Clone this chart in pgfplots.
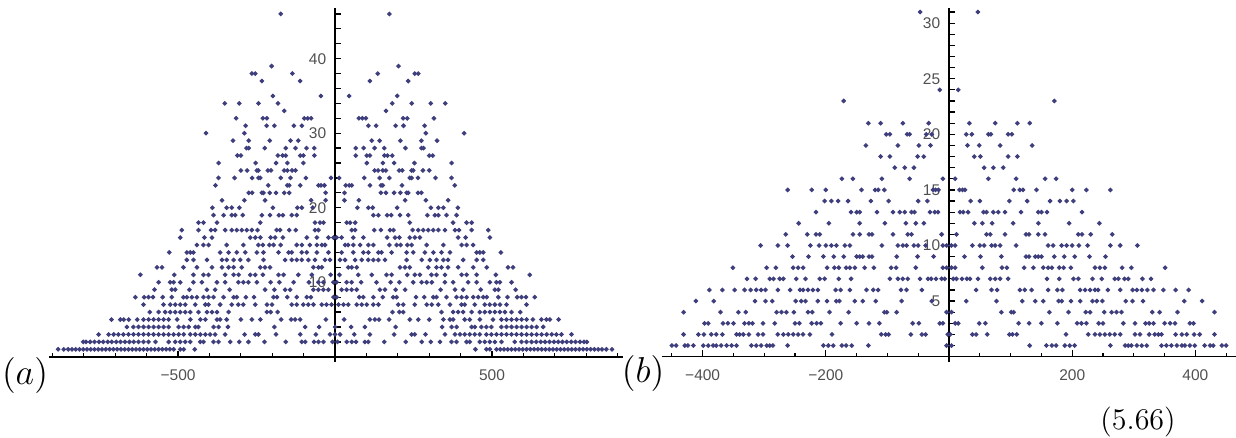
\documentclass[border=0pt]{standalone}
\usepackage{pgfplots}
\pgfplotsset{compat=1.18}
\usepackage{fontspec}
\newfontfamily\tickfont{Liberation Sans}
\definecolor{dots}{RGB}{62,62,125}
\definecolor{ticktext}{RGB}{80,80,80}
\pgfplotsset{
  panel/.style={
    scale only axis, width=229.6pt, height=141.6pt,
    anchor=south west, clip=false,
    axis x line=center, axis y line=center,
    axis line style={-, black, line width=0.6pt},
    every tick/.style={black, line width=0.5pt},
    tick align=inside,
    major tick length=2.5pt, minor tick length=1.4pt,
    xlabel={}, ylabel={},
    tick label style={font=\tickfont\fontsize{6.2}{7}\selectfont, text=ticktext},
    x tick label style={yshift=-1.5pt},
  },
  pts/.style={only marks, color=dots, mark=*, mark size=0.72pt, mark options={draw=none, fill=dots}},
}
\begin{document}
\begin{tikzpicture}
\path[use as bounding box] (0,0) rectangle (494.4pt,174.8pt);
% panel (a)
\begin{axis}[panel, at={(19.6pt,30pt)},
  xmin=-911, xmax=917, ymin=-0.7, ymax=46.8,
  xtick={-500,500}, xticklabels={−500,500},
  minor xtick={-900,-800,-700,-600,-400,-300,-200,-100,100,200,300,400,600,700,800,900},
  ytick={2,4,...,46},
  yticklabels={,,,,10,,,,,20,,,,,30,,,,,40,,,},
]
% right half
\addplot[pts] coordinates {
(173,46)
(202,39)
(136,38)(254,38)(265,38)
(111,37)(233,37)
(45,35)(198,35)
(182,34)(244,34)(305,34)(351,34)
(162,33)
(76,32)(87,32)(98,32)(217,32)(230,32)(315,32)
(106,31)(131,31)(193,31)(218,31)(285,31)
(289,30)(411,30)
(117,29)(142,29)(208,29)(275,29)(325,29)
(66,28)(91,28)(126,28)(157,28)(224,28)(275,28)(282,28)
(66,27)(101,27)(111,27)(157,27)(167,27)(182,27)(300,27)(311,27)
(101,26)(152,26)(188,26)(253,26)(371,26)
(126,25)(137,25)(152,25)(162,25)(204,25)(214,25)(244,25)(249,25)(280,25)(300,25)
(13,24)(93,24)(142,24)(173,24)(238,24)(244,24)(264,24)(320,24)(371,24)
(34,23)(45,23)(53,23)(111,23)(146,23)(152,23)(213,23)(381,23)
(30,22)(146,22)(162,22)(188,22)(208,22)(228,22)(233,22)(264,22)(275,22)
(30,21)(76,21)(223,21)(289,21)(360,21)
(71,20)(106,20)(120,20)(198,20)(305,20)(329,20)(345,20)(391,20)
(122,19)(138,19)(166,19)(179,19)(207,19)(233,19)(294,19)(318,19)(329,19)(355,19)(387,19)
(37,18)(48,18)(64,18)(238,18)(376,18)(419,18)(435,18)
(53,17)(64,17)(125,17)(146,17)(175,17)(186,17)(247,17)(265,17)(281,17)(297,17)(313,17)(329,17)(350,17)(382,17)(395,17)(435,17)(488,17)
(5,16)(21,16)(58,16)(90,16)(166,16)(191,16)(205,16)(238,16)(254,16)(270,16)(392,16)(416,16)(493,16)
(32,15)(42,15)(58,15)(80,15)(106,15)(122,15)(173,15)(196,15)(209,15)(230,15)(244,15)(292,15)(345,15)(403,15)(419,15)(440,15)
(21,14)(58,14)(90,14)(106,14)(138,14)(148,14)(180,14)(228,14)(249,14)(286,14)(313,14)(339,14)(366,14)(451,14)(461,14)(472,14)(528,14)
(16,13)(32,13)(64,13)(85,13)(106,13)(122,13)(138,13)(159,13)(228,13)(276,13)(302,13)(323,13)(345,13)(360,13)(408,13)(451,13)(472,13)
(42,12)(53,12)(69,12)(207,12)(223,12)(238,12)(297,12)(323,12)(339,12)(360,12)(392,12)(440,12)(483,12)(551,12)(567,12)
(14,11)(74,11)(117,11)(164,11)(180,11)(230,11)(254,11)(270,11)(307,11)(323,11)(350,11)(403,11)(419,11)(451,11)(512,11)(620,11)
(5,10)(37,10)(53,10)(83,10)(132,10)(177,10)(205,10)(249,10)(276,10)(292,10)(308,10)(350,10)(376,10)(424,10)(451,10)(493,10)(514,10)(525,10)(562,10)
(21,9)(37,9)(53,9)(69,9)(143,9)(159,9)(193,9)(223,9)(336,9)(382,9)(408,9)(464,9)(509,9)(520,9)(575,9)
(5,8)(77,8)(90,8)(122,8)(152,8)(185,8)(196,8)(258,8)(284,8)(313,8)(323,8)(355,8)(387,8)(403,8)(419,8)(440,8)(456,8)(472,8)(483,8)(520,8)(549,8)(580,8)(594,8)(608,8)(636,8)
(11,7)(27,7)(42,7)(69,7)(85,7)(101,7)(122,7)(138,7)(201,7)(217,7)(254,7)(292,7)(308,7)(329,7)(366,7)(403,7)(413,7)(445,7)(477,7)(493,7)(509,7)(525,7)(546,7)(610,7)
(183,6)(205,6)(217,6)(339,6)(376,6)(392,6)(408,6)(435,6)(461,6)(477,6)(493,6)(509,6)(525,6)(541,6)(562,6)(590,6)
(29,5)(111,5)(127,5)(140,5)(172,5)(238,5)(265,5)(300,5)(345,5)(366,5)(376,5)(413,5)(429,5)(461,5)(503,5)(530,5)(546,5)(562,5)(578,5)(594,5)(610,5)(630,5)(657,5)(673,5)(684,5)(712,5)
(0,4)(51,4)(95,4)(193,4)(341,4)(371,4)(387,4)(435,4)(445,4)(466,4)(482,4)(498,4)(530,4)(546,4)(562,4)(578,4)(594,4)(610,4)(626,4)(642,4)(663,4)
(0,3)(16,3)(61,3)(111,3)(188,3)(244,3)(254,3)(288,3)(350,3)(382,3)(398,3)(413,3)(429,3)(445,3)(461,3)(482,3)(498,3)(514,3)(530,3)(546,3)(562,3)(578,3)(594,3)(610,3)(626,3)(642,3)(658,3)(674,3)(690,3)(705,3)(721,3)(753,3)
(8,2)(37,2)(53,2)(67,2)(95,2)(106,2)(157,2)(225,2)(276,2)(305,2)(334,2)(371,2)(387,2)(419,2)(429,2)(461,2)(477,2)(493,2)(509,2)(530,2)(572,2)(594,2)(610,2)(626,2)(641,2)(655,2)(669,2)(683,2)(697,2)(711,2)(724,2)(738,2)(752,2)(766,2)(780,2)(793,2)(802,2)
(447,1)(482,1)(493,1)(514,1)(526,1)(538,1)(550,1)(562,1)(574,1)(586,1)(598,1)(610,1)(622,1)(634,1)(646,1)(658,1)(670,1)(682,1)(694,1)(706,1)(718,1)(730,1)(742,1)(754,1)(766,1)(778,1)(790,1)(802,1)(814,1)(826,1)(838,1)(850,1)(864,1)(882,1)
};
% left half
\addplot[pts] coordinates {
(-173,46)
(-202,39)
(-136,38)(-254,38)(-265,38)
(-111,37)(-233,37)
(-45,35)(-198,35)
(-182,34)(-244,34)(-305,34)(-351,34)
(-162,33)
(-76,32)(-87,32)(-98,32)(-217,32)(-230,32)(-315,32)
(-106,31)(-131,31)(-193,31)(-218,31)(-285,31)
(-289,30)(-411,30)
(-117,29)(-142,29)(-208,29)(-275,29)(-325,29)
(-66,28)(-91,28)(-126,28)(-157,28)(-224,28)(-275,28)(-282,28)
(-66,27)(-101,27)(-111,27)(-157,27)(-167,27)(-182,27)(-300,27)(-311,27)
(-101,26)(-152,26)(-188,26)(-253,26)(-371,26)
(-126,25)(-137,25)(-152,25)(-162,25)(-204,25)(-214,25)(-244,25)(-249,25)(-280,25)(-300,25)
(-13,24)(-93,24)(-142,24)(-173,24)(-238,24)(-244,24)(-264,24)(-320,24)(-371,24)
(-34,23)(-45,23)(-53,23)(-111,23)(-146,23)(-152,23)(-213,23)(-381,23)
(-30,22)(-146,22)(-162,22)(-188,22)(-208,22)(-228,22)(-233,22)(-264,22)(-275,22)
(-30,21)(-76,21)(-223,21)(-289,21)(-360,21)
(-71,20)(-106,20)(-120,20)(-198,20)(-305,20)(-329,20)(-345,20)(-391,20)
(-122,19)(-138,19)(-166,19)(-179,19)(-207,19)(-233,19)(-294,19)(-318,19)(-329,19)(-355,19)(-387,19)
(-37,18)(-48,18)(-64,18)(-238,18)(-376,18)(-419,18)(-435,18)
(-53,17)(-64,17)(-125,17)(-146,17)(-175,17)(-186,17)(-247,17)(-265,17)(-281,17)(-297,17)(-313,17)(-329,17)(-350,17)(-382,17)(-395,17)(-435,17)(-488,17)
(-5,16)(-21,16)(-58,16)(-90,16)(-166,16)(-191,16)(-205,16)(-238,16)(-254,16)(-270,16)(-392,16)(-416,16)(-493,16)
(-32,15)(-42,15)(-58,15)(-80,15)(-106,15)(-122,15)(-173,15)(-196,15)(-209,15)(-230,15)(-244,15)(-292,15)(-345,15)(-403,15)(-419,15)(-440,15)
(-21,14)(-58,14)(-90,14)(-106,14)(-138,14)(-148,14)(-180,14)(-228,14)(-249,14)(-286,14)(-313,14)(-339,14)(-366,14)(-451,14)(-461,14)(-472,14)(-528,14)
(-16,13)(-32,13)(-64,13)(-85,13)(-106,13)(-122,13)(-138,13)(-159,13)(-228,13)(-276,13)(-302,13)(-323,13)(-345,13)(-360,13)(-408,13)(-451,13)(-472,13)
(-42,12)(-53,12)(-69,12)(-207,12)(-223,12)(-238,12)(-297,12)(-323,12)(-339,12)(-360,12)(-392,12)(-440,12)(-483,12)(-551,12)(-567,12)
(-14,11)(-74,11)(-117,11)(-164,11)(-180,11)(-230,11)(-254,11)(-270,11)(-307,11)(-323,11)(-350,11)(-403,11)(-419,11)(-451,11)(-512,11)(-620,11)
(-5,10)(-37,10)(-53,10)(-83,10)(-132,10)(-177,10)(-205,10)(-249,10)(-276,10)(-292,10)(-308,10)(-350,10)(-376,10)(-424,10)(-451,10)(-493,10)(-514,10)(-525,10)(-562,10)
(-21,9)(-37,9)(-53,9)(-69,9)(-143,9)(-159,9)(-193,9)(-223,9)(-336,9)(-382,9)(-408,9)(-464,9)(-509,9)(-520,9)(-575,9)
(-5,8)(-77,8)(-90,8)(-122,8)(-152,8)(-185,8)(-196,8)(-258,8)(-284,8)(-313,8)(-323,8)(-355,8)(-387,8)(-403,8)(-419,8)(-440,8)(-456,8)(-472,8)(-483,8)(-520,8)(-549,8)(-580,8)(-594,8)(-608,8)(-636,8)
(-11,7)(-27,7)(-42,7)(-69,7)(-85,7)(-101,7)(-122,7)(-138,7)(-201,7)(-217,7)(-254,7)(-292,7)(-308,7)(-329,7)(-366,7)(-403,7)(-413,7)(-445,7)(-477,7)(-493,7)(-509,7)(-525,7)(-546,7)(-610,7)
(-183,6)(-205,6)(-217,6)(-339,6)(-376,6)(-392,6)(-408,6)(-435,6)(-461,6)(-477,6)(-493,6)(-509,6)(-525,6)(-541,6)(-562,6)(-590,6)
(-29,5)(-111,5)(-127,5)(-140,5)(-172,5)(-238,5)(-265,5)(-300,5)(-345,5)(-366,5)(-376,5)(-413,5)(-429,5)(-461,5)(-503,5)(-530,5)(-546,5)(-562,5)(-578,5)(-594,5)(-610,5)(-630,5)(-657,5)(-673,5)(-684,5)(-712,5)
(-51,4)(-95,4)(-193,4)(-341,4)(-371,4)(-387,4)(-435,4)(-445,4)(-466,4)(-482,4)(-498,4)(-530,4)(-546,4)(-562,4)(-578,4)(-594,4)(-610,4)(-626,4)(-642,4)(-663,4)
(-16,3)(-61,3)(-111,3)(-188,3)(-244,3)(-254,3)(-288,3)(-350,3)(-382,3)(-398,3)(-413,3)(-429,3)(-445,3)(-461,3)(-482,3)(-498,3)(-514,3)(-530,3)(-546,3)(-562,3)(-578,3)(-594,3)(-610,3)(-626,3)(-642,3)(-658,3)(-674,3)(-690,3)(-705,3)(-721,3)(-753,3)
(-8,2)(-37,2)(-53,2)(-67,2)(-95,2)(-106,2)(-157,2)(-225,2)(-276,2)(-305,2)(-334,2)(-371,2)(-387,2)(-419,2)(-429,2)(-461,2)(-477,2)(-493,2)(-509,2)(-530,2)(-572,2)(-594,2)(-610,2)(-626,2)(-641,2)(-655,2)(-669,2)(-683,2)(-697,2)(-711,2)(-724,2)(-738,2)(-752,2)(-766,2)(-780,2)(-793,2)(-802,2)
(-447,1)(-482,1)(-493,1)(-514,1)(-526,1)(-538,1)(-550,1)(-562,1)(-574,1)(-586,1)(-598,1)(-610,1)(-622,1)(-634,1)(-646,1)(-658,1)(-670,1)(-682,1)(-694,1)(-706,1)(-718,1)(-730,1)(-742,1)(-754,1)(-766,1)(-778,1)(-790,1)(-802,1)(-814,1)(-826,1)(-838,1)(-850,1)(-864,1)(-882,1)
};
\end{axis}
% panel (b)
\begin{axis}[panel, at={(264.8pt,30pt)},
  xmin=-466, xmax=466, ymin=-0.48, ymax=31.36,
  xtick={-400,-200,200,400}, xticklabels={−400,−200,200,400},
  minor xtick={-450,-350,-300,-250,-150,-100,-50,50,100,150,250,300,350,450},
  ytick={1,2,...,31},
  yticklabels={,,,,5,,,,,10,,,,,15,,,,,20,,,,,25,,,,,30,},
]
% right half
\addplot[pts] coordinates {
(47,31)
(15,24)
(171,23)
(33,21)(75,21)(111,21)(131,21)
(28,20)(37,20)(64,20)(68,20)(96,20)(102,20)
(30,19)(49,19)(83,19)(135,19)
(41,18)(51,18)(96,18)(111,18)
(57,17)(72,17)(88,17)
(10,16)(64,16)(109,16)(156,16)(174,16)
(17,15)(22,15)(26,15)(105,15)(115,15)(120,15)(142,15)(200,15)(223,15)(262,15)
(35,14)(50,14)(98,14)(127,14)(164,14)(180,14)(191,14)(202,14)
(18,13)(23,13)(31,13)(56,13)(61,13)(72,13)(80,13)(91,13)(117,13)(145,13)(150,13)(159,13)(216,13)
(41,12)(54,12)(70,12)(104,12)(145,12)(195,12)(244,12)
(12,11)(61,11)(67,11)(91,11)(125,11)(130,11)(145,11)(156,11)(210,11)(216,11)(230,11)(265,11)
(4,10)(10,10)(38,10)(50,10)(57,10)(69,10)(75,10)(83,10)(109,10)(161,10)(169,10)(183,10)(191,10)(200,10)(211,10)(225,10)(262,10)(278,10)(306,10)
(25,9)(51,9)(85,9)(125,9)(130,9)(140,9)(145,9)(150,9)(171,9)(187,9)(204,9)(228,9)(254,9)
(4,8)(10,8)(54,8)(86,8)(94,8)(122,8)(137,8)(153,8)(161,8)(167,8)(179,8)(186,8)(198,8)(237,8)(245,8)(253,8)(281,8)(296,8)(351,8)
(7,7)(12,7)(21,7)(29,7)(34,7)(47,7)(67,7)(75,7)(83,7)(96,7)(159,7)(179,7)(202,7)(210,7)(233,7)(248,7)(269,7)(275,7)(285,7)(291,7)(314,7)(328,7)
(44,6)(69,6)(78,6)(115,6)(123,6)(134,6)(161,6)(176,6)(184,6)(213,6)(221,6)(229,6)(237,6)(242,6)(258,6)(278,6)(298,6)(305,6)(313,6)(322,6)(332,6)(348,6)(368,6)(389,6)
(28,5)(77,5)(119,5)(140,5)(153,5)(178,5)(183,5)(198,5)(213,5)(233,5)(240,5)(249,5)(287,5)(298,5)(315,5)(382,5)(411,5)
(4,4)(85,4)(101,4)(105,4)(163,4)(194,4)(222,4)(229,4)(252,4)(264,4)(272,4)(280,4)(330,4)(342,4)(371,4)(431,4)
(10,3)(15,3)(49,3)(59,3)(113,3)(130,3)(150,3)(176,3)(208,3)(215,3)(223,3)(243,3)(250,3)(283,3)(302,3)(319,3)(325,3)(332,3)(350,3)(359,3)(367,3)(391,3)(397,3)
(2,2)(38,2)(44,2)(62,2)(98,2)(103,2)(110,2)(190,2)(226,2)(237,2)(245,2)(253,2)(261,2)(269,2)(278,2)(302,2)(310,2)(325,2)(334,2)(340,2)(345,2)(368,2)(378,2)(386,2)(398,2)(407,2)(431,2)
(4,1)(131,1)(158,1)(167,1)(174,1)(188,1)(196,1)(204,1)(262,1)(286,1)(291,1)(296,1)(305,1)(313,1)(321,1)(345,1)(353,1)(361,1)(370,1)(378,1)(383,1)(391,1)(399,1)(415,1)(424,1)(429,1)(443,1)(450,1)
};
% left half
\addplot[pts] coordinates {
(-47,31)
(-15,24)
(-171,23)
(-33,21)(-75,21)(-111,21)(-131,21)
(-28,20)(-37,20)(-64,20)(-68,20)(-96,20)(-102,20)
(-30,19)(-49,19)(-83,19)(-135,19)
(-41,18)(-51,18)(-96,18)(-111,18)
(-57,17)(-72,17)(-88,17)
(-10,16)(-64,16)(-109,16)(-156,16)(-174,16)
(-17,15)(-22,15)(-26,15)(-105,15)(-115,15)(-120,15)(-142,15)(-200,15)(-223,15)(-262,15)
(-35,14)(-50,14)(-98,14)(-127,14)(-164,14)(-180,14)(-191,14)(-202,14)
(-18,13)(-23,13)(-31,13)(-56,13)(-61,13)(-72,13)(-80,13)(-91,13)(-117,13)(-145,13)(-150,13)(-159,13)(-216,13)
(-41,12)(-54,12)(-70,12)(-104,12)(-145,12)(-195,12)(-244,12)
(-12,11)(-61,11)(-67,11)(-91,11)(-125,11)(-130,11)(-145,11)(-156,11)(-210,11)(-216,11)(-230,11)(-265,11)
(-4,10)(-10,10)(-38,10)(-50,10)(-57,10)(-69,10)(-75,10)(-83,10)(-109,10)(-161,10)(-169,10)(-183,10)(-191,10)(-200,10)(-211,10)(-225,10)(-262,10)(-278,10)(-306,10)
(-25,9)(-51,9)(-85,9)(-125,9)(-130,9)(-140,9)(-145,9)(-150,9)(-171,9)(-187,9)(-204,9)(-228,9)(-254,9)
(-4,8)(-10,8)(-54,8)(-86,8)(-94,8)(-122,8)(-137,8)(-153,8)(-161,8)(-167,8)(-179,8)(-186,8)(-198,8)(-237,8)(-245,8)(-253,8)(-281,8)(-296,8)(-351,8)
(-7,7)(-12,7)(-21,7)(-29,7)(-34,7)(-47,7)(-67,7)(-75,7)(-83,7)(-96,7)(-159,7)(-179,7)(-202,7)(-210,7)(-233,7)(-248,7)(-269,7)(-275,7)(-285,7)(-291,7)(-314,7)(-328,7)
(-44,6)(-69,6)(-78,6)(-115,6)(-123,6)(-134,6)(-161,6)(-176,6)(-184,6)(-213,6)(-221,6)(-229,6)(-237,6)(-242,6)(-258,6)(-278,6)(-298,6)(-305,6)(-313,6)(-322,6)(-332,6)(-348,6)(-368,6)(-389,6)
(-28,5)(-77,5)(-119,5)(-140,5)(-153,5)(-178,5)(-183,5)(-198,5)(-213,5)(-233,5)(-240,5)(-249,5)(-287,5)(-298,5)(-315,5)(-382,5)(-411,5)
(-4,4)(-85,4)(-101,4)(-105,4)(-163,4)(-194,4)(-222,4)(-229,4)(-252,4)(-264,4)(-272,4)(-280,4)(-330,4)(-342,4)(-371,4)(-431,4)
(-10,3)(-15,3)(-49,3)(-59,3)(-113,3)(-130,3)(-150,3)(-176,3)(-208,3)(-215,3)(-223,3)(-243,3)(-250,3)(-283,3)(-302,3)(-319,3)(-325,3)(-332,3)(-350,3)(-359,3)(-367,3)(-391,3)(-397,3)
(-2,2)(-38,2)(-44,2)(-62,2)(-98,2)(-103,2)(-110,2)(-190,2)(-226,2)(-237,2)(-245,2)(-253,2)(-261,2)(-269,2)(-278,2)(-302,2)(-310,2)(-325,2)(-334,2)(-340,2)(-345,2)(-368,2)(-378,2)(-386,2)(-398,2)(-407,2)(-431,2)
(-4,1)(-131,1)(-158,1)(-167,1)(-174,1)(-188,1)(-196,1)(-204,1)(-262,1)(-286,1)(-291,1)(-296,1)(-305,1)(-313,1)(-321,1)(-345,1)(-353,1)(-361,1)(-370,1)(-378,1)(-383,1)(-391,1)(-399,1)(-415,1)(-424,1)(-429,1)(-443,1)(-450,1)
};
\end{axis}
\node[font=\fontsize{14}{16}\selectfont] at (10pt,24.8pt) {$(a)$};
\node[font=\fontsize{14}{16}\selectfont] at (257.2pt,25.6pt) {$(b)$};
\node[font=\fontsize{12.8}{15}\selectfont] at (455.2pt,6.2pt) {$(5.66)$};
\end{tikzpicture}
\end{document}
